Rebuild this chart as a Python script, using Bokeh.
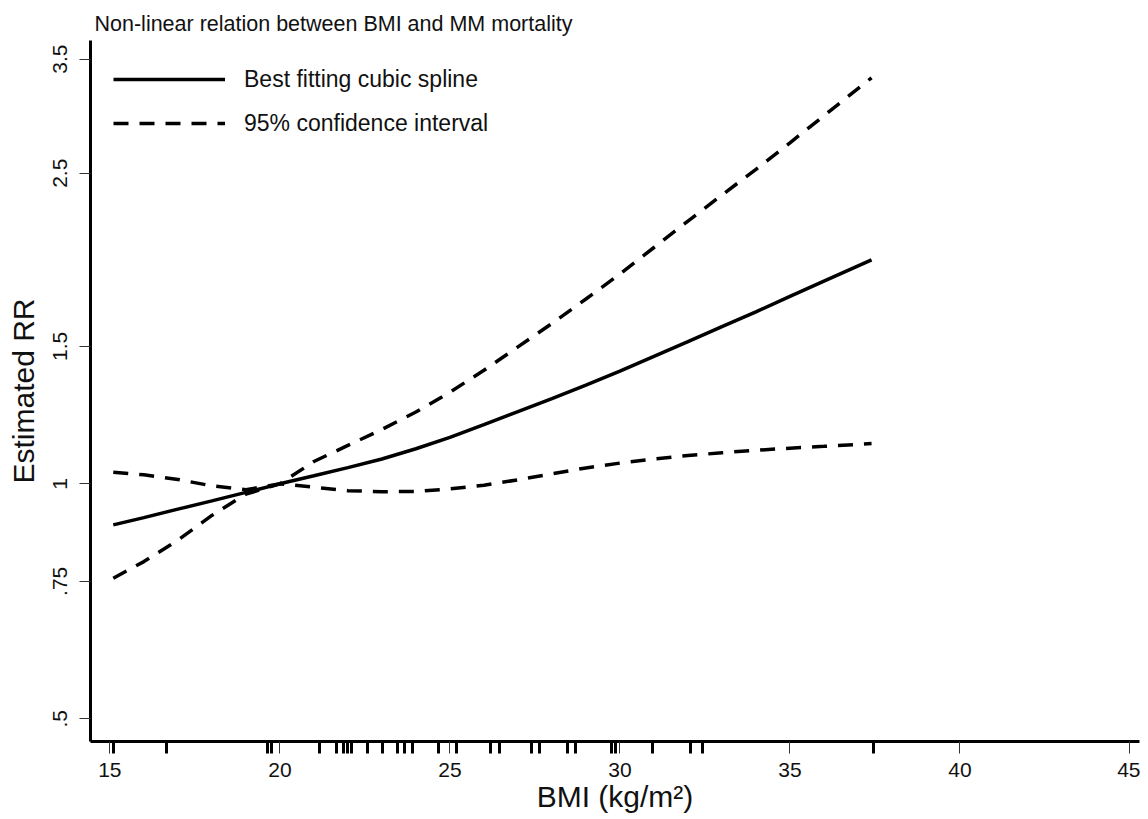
import numpy as np
from bokeh.plotting import figure
from bokeh.models import Range1d, FixedTicker, Legend, LegendItem
from bokeh.embed import file_html
from bokeh.resources import INLINE

# ---- data ----
bmi = [15.1, 16, 17, 18, 19, 20, 21, 22, 23, 24, 25, 26, 27, 28, 29, 30, 31, 32, 33, 34, 35, 36, 37.4]
rr = [0.886, 0.905, 0.928, 0.951, 0.975, 1.0, 1.024, 1.049, 1.076, 1.109, 1.147, 1.191, 1.237,
      1.286, 1.338, 1.394, 1.456, 1.521, 1.590, 1.661, 1.738, 1.818, 1.936]
lb = [0.757, 0.795, 0.847, 0.911, 0.970, 1.0, 0.990, 0.980, 0.977, 0.978, 0.985, 0.996, 1.012,
      1.030, 1.048, 1.063, 1.076, 1.087, 1.096, 1.104, 1.111, 1.117, 1.126]
ub = [1.035, 1.027, 1.013, 0.994, 0.983, 1.0, 1.068, 1.120, 1.174, 1.236, 1.310, 1.398, 1.498,
      1.605, 1.725, 1.857, 2.008, 2.171, 2.344, 2.529, 2.735, 2.962, 3.313]
rug_bmi = [15.12, 16.67, 19.65, 19.76, 21.16, 21.67, 21.88, 21.98, 22.10, 22.59, 23.01, 23.45,
           23.65, 23.91, 24.65, 25.20, 26.18, 26.47, 27.39, 27.62, 28.47, 28.70, 29.75, 29.87,
           30.97, 32.08, 32.42, 37.45]
x_ticks = [15, 20, 25, 30, 35, 40, 45]
y_ticks = [0.5, 0.75, 1, 1.5, 2.5, 3.5]
y_tick_labels = [".5", ".75", "1", "1.5", "2.5", "3.5"]

title_text = "Non-linear relation between BMI and MM mortality"
series_labels = ["Best fitting cubic spline", "95% confidence interval"]

FONT = "Liberation Sans"

p = figure(width=1140, height=817,
           x_range=Range1d(14.43, 45.28), y_range=Range1d(0.4676, 3.698),
           y_axis_type="log", output_backend="svg", toolbar_location=None,
           min_border_left=90, min_border_right=1, min_border_top=40, min_border_bottom=76)

p.outline_line_color = None
p.xgrid.visible = False
p.ygrid.visible = False
p.background_fill_color = "white"
p.border_fill_color = "white"

# title
p.title.text = title_text
p.title.text_font = FONT
p.title.text_font_size = "21.5px"
p.title.text_font_style = "normal"
p.title.text_color = "#111111"
p.title.align = "left"
p.title.offset = 4
p.title.standoff = 9

# curves
r_rr = p.line(bmi, rr, line_color="black", line_width=3.5)
r_lb = p.line(bmi, lb, line_color="black", line_width=3.5, line_dash="15 11")
r_ub = p.line(bmi, ub, line_color="black", line_width=3.5, line_dash="15 11")

# x axis with rug as minor ticks
xa = p.xaxis[0]
xa.ticker = FixedTicker(ticks=x_ticks, minor_ticks=rug_bmi)
xa.axis_line_width = 3
xa.axis_line_color = "black"
xa.major_tick_line_width = 1
xa.major_tick_line_color = "#333333"
xa.major_tick_out = 12
xa.major_tick_in = 0
xa.minor_tick_line_width = 3
xa.minor_tick_line_color = "black"
xa.minor_tick_out = 12
xa.minor_tick_in = 0
xa.major_label_text_font = FONT
xa.major_label_text_font_size = "21px"
xa.major_label_text_color = "#111111"
xa.major_label_standoff = 9
xa.axis_label = "BMI (kg/m\u00b2)"
xa.axis_label_text_font = FONT
xa.axis_label_text_font_size = "30px"
xa.axis_label_text_font_style = "normal"
xa.axis_label_text_color = "#111111"
xa.axis_label_standoff = 0

# y axis
ya = p.yaxis[0]
ya.ticker = FixedTicker(ticks=y_ticks, minor_ticks=[])
ya.major_label_overrides = {t: l for t, l in zip(y_ticks, y_tick_labels)}
ya.axis_line_width = 3
ya.axis_line_color = "black"
ya.major_tick_line_width = 1
ya.major_tick_line_color = "#333333"
ya.major_tick_out = 11
ya.major_tick_in = 0
ya.minor_tick_line_color = None
ya.major_label_orientation = "vertical"
ya.major_label_text_font = FONT
ya.major_label_text_font_size = "21px"
ya.major_label_text_color = "#111111"
ya.major_label_standoff = 12
ya.axis_label = "Estimated RR"
ya.axis_label_text_font = FONT
ya.axis_label_text_font_size = "30px"
ya.axis_label_text_font_style = "normal"
ya.axis_label_text_color = "#111111"
ya.axis_label_standoff = 11

legend = Legend(items=[LegendItem(label=series_labels[0], renderers=[r_rr]),
                       LegendItem(label=series_labels[1], renderers=[r_ub])],
                location="top_left")
legend.margin = 23
legend.padding = 0
legend.glyph_width = 112
legend.glyph_height = 32
legend.label_height = 32
legend.label_standoff = 19
legend.spacing = 12
legend.label_text_font = FONT
legend.label_text_font_size = "23px"
legend.label_text_color = "#111111"
legend.background_fill_alpha = 0
legend.border_line_color = None
p.add_layout(legend)

open("out.html", "w").write(file_html(p, INLINE))
